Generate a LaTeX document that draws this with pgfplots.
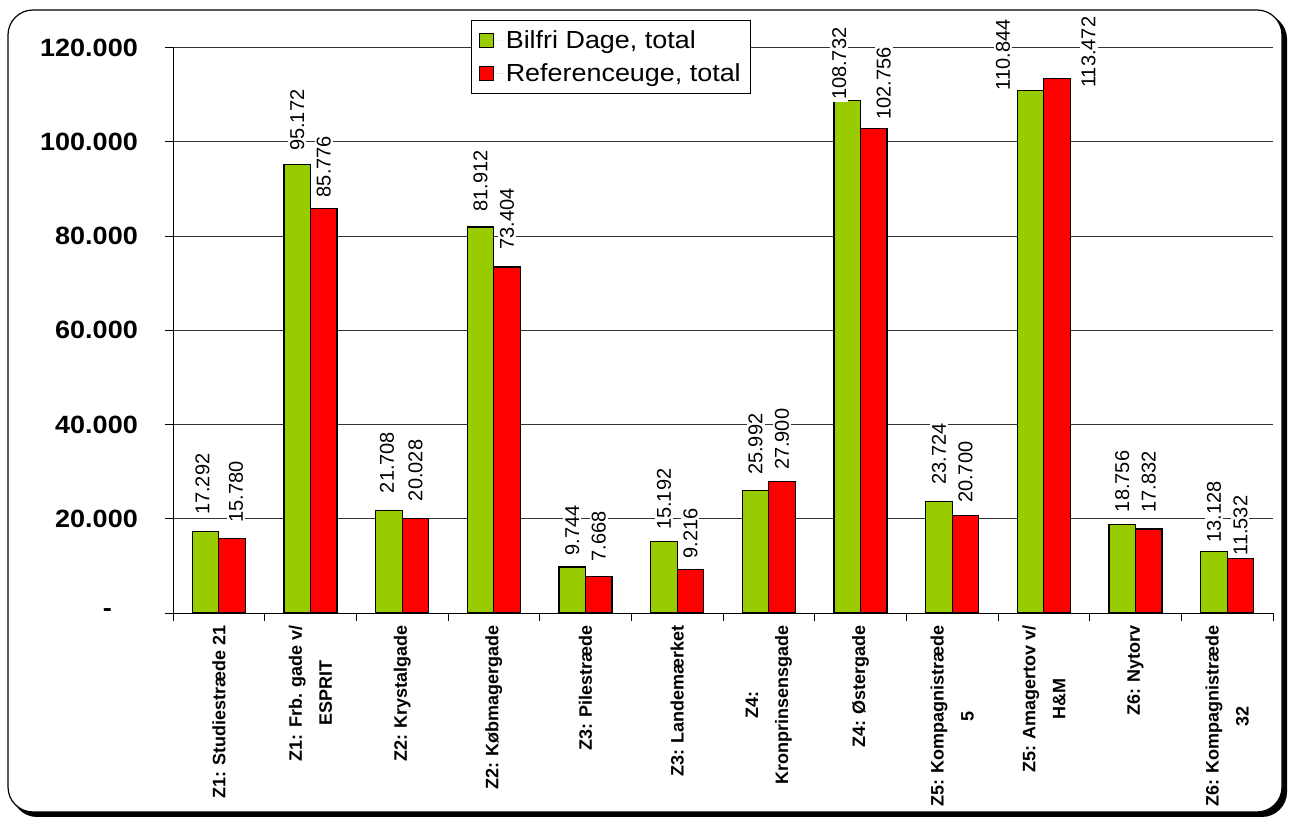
\documentclass[border=0pt]{standalone}
\usepackage{fontspec}
\setmainfont{Liberation Sans}
\newfontfamily\legfont[FakeStretch=1.09]{Liberation Sans}
\newfontfamily\ytfont[FakeStretch=1.08]{Liberation Sans}
\usepackage{pgfplots}
\pgfplotsset{compat=1.18}
\usepackage{pgfplotstable}
\definecolor{bgreen}{RGB}{153,204,0}
\definecolor{bred}{RGB}{255,0,0}

\pgfplotstableread{
x y lab dx dy
0 17292 17.292 -3 14
1 95172 95.172 0 11
2 21708 21.708 -2 15
3 81912 81.912 0 13
4 9744 9.744 0 9
5 15192 15.192 0 9
6 25992 25.992 0 13
7 108732 108.732 -8 -2
8 23724 23.724 0 14
9 110844 110.844 -27.5 -2
10 18756 18.756 0 10
11 13128 13.128 0 6
}\greendata

\pgfplotstableread{
x y lab dx dy
0 15780 15.780 4 13.6
1 85776 85.776 0 9
2 20028 20.028 0 15
3 73404 73.404 0 15
4 7668 7.668 0 13
5 9216 9.216 0 8.7
6 27900 27.900 0 9
7 102756 102.756 10 6.7
8 20700 20.700 0 10
9 113472 113.472 31.5 -12
10 17832 17.832 0 14
11 11532 11.532 0 0.5
}\reddata

\begin{document}
\begin{tikzpicture}
\useasboundingbox (0bp,0bp) rectangle (1292bp,817bp);
\fill[black, rounded corners=25bp] (12bp,0bp) rectangle (1287bp,803bp);
\filldraw[fill=white, draw=black, line width=1.2bp, rounded corners=25bp] (8bp,5bp) rectangle (1282bp,807bp);
\begin{axis}[
  at={(173bp,204bp)}, anchor=south west,
  scale only axis, width=1100bp, height=565.5bp,
  xmin=-0.5, xmax=11.5, ymin=0, ymax=120000,
  clip=false,
  axis x line*=bottom, axis y line*=left,
  axis line style={black, line width=1bp},
  ybar=0pt, bar width=26.5bp,
  tick align=outside, major tick length=8bp,
  tick style={black, line width=0.8bp},
  xtick={-0.5,0.5,...,11.5}, xticklabels={},
  extra x ticks={0,1,2,3,4,5,6,7,8,9,10,11},
  extra x tick labels={{Z1: Studiestræde 21},{Z1: Frb. gade v/\\ESPRIT},{Z2: Krystalgade},{Z2: Købmagergade},{Z3: Pilestræde},{Z3: Landemærket},{Z4:\\Kronprinsensgade},{Z4: Østergade},{Z5: Kompagnistræde\\5},{Z5: Amagertov v/\\H\&M},{Z6: Nytorv},{Z6: Kompagnistræde\\32}},
  extra x tick style={major tick length=0pt, grid=none},
  xticklabel style={inner sep=0pt, yshift=-12bp, rotate=90, anchor=east, align=center, font=\bfseries\fontsize{18bp}{30bp}\selectfont},
  ytick={0,20000,40000,60000,80000,100000,120000},
  yticklabels={\makebox[35bp][l]{-},20.000,40.000,60.000,80.000,100.000,120.000},
  scaled y ticks=false,
  yticklabel style={inner sep=0pt, xshift=-27bp, anchor=east, font=\ytfont\bfseries\fontsize{25bp}{30bp}\selectfont},
  ymajorgrids, major grid style={black!80, line width=0.8bp},
  nodes near coords, point meta=explicit symbolic,
  every node near coord/.append style={font=\fontsize{20bp}{24bp}\selectfont, fill=white, inner sep=2bp, xshift=\mydx bp, yshift=\mydy bp, rotate=90, anchor=west},
  legend style={at={(0.2709,1.0486)}, anchor=north west, draw=black, line width=0.8bp, fill=white,
    font=\legfont\fontsize{24.7bp}{30bp}\selectfont, inner xsep=8bp, inner ysep=8bp, row sep=10bp,
    nodes={inner sep=2bp}, cells={anchor=west}},
  legend image code/.code={\path[draw=none] (0bp,0bp) -- (24bp,0bp);\draw[#1, draw=black, line width=0.8bp] (0bp,-7bp) rectangle (14bp,7bp);},
]
\addplot[fill=bgreen, draw=black, line width=1.2bp,
  visualization depends on={\thisrow{dx}\as\mydx},
  visualization depends on={\thisrow{dy}\as\mydy}]
  table[x=x, y=y, meta=lab]{\greendata};
\addlegendentry{Bilfri Dage, total}
\addplot[fill=bred, draw=black, line width=1.2bp,
  visualization depends on={\thisrow{dx}\as\mydx},
  visualization depends on={\thisrow{dy}\as\mydy}]
  table[x=x, y=y, meta=lab]{\reddata};
\addlegendentry{Referenceuge, total}
\end{axis}
\end{tikzpicture}
\end{document}
